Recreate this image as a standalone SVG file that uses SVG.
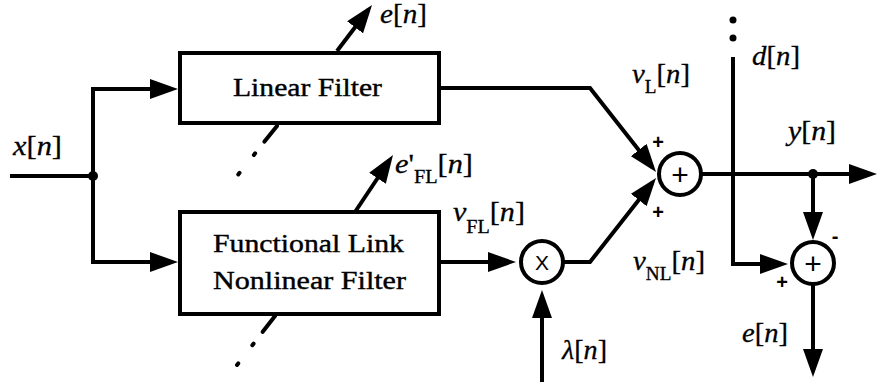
<svg xmlns="http://www.w3.org/2000/svg" width="877" height="382" viewBox="0 0 877 382">
<style>
.ln{fill:none;stroke:#000;stroke-width:4;stroke-linejoin:miter}
.box{fill:#fff;stroke:#000;stroke-width:4}
.ci{fill:#fff;stroke:#000;stroke-width:4}
.dash{fill:none;stroke:#000;stroke-width:4;stroke-linecap:round;stroke-dasharray:20 15 2 23 2 100}
.bt{font-family:"Liberation Serif","Times New Roman",serif;font-size:26px;fill:#000;stroke:#000;stroke-width:0.4}
.lb{font-family:"Liberation Serif","Times New Roman",serif;font-size:27px;fill:#000;stroke:#000;stroke-width:0.3}
.sub{font-size:18px}
.it{font-style:italic}
.sg{font-family:"Liberation Sans",Arial,sans-serif;fill:#000;text-anchor:middle}
.sm{font-size:20px;font-weight:bold}
</style>
<defs>
<marker id="ah" markerUnits="userSpaceOnUse" markerWidth="28" markerHeight="20" refX="22" refY="10" orient="auto" viewBox="0 0 28 20">
<path d="M0,0 L28,10 L0,20 z" fill="#000"/>
</marker>
</defs>
<g id="connectors">
<path class="ln" d="M10,176 H93"/>
<path class="ln" d="M93,176 V89 H172" marker-end="url(#ah)"/>
<path class="ln" d="M93,176 V262 H172" marker-end="url(#ah)"/>
<circle cx="93" cy="176" r="5" fill="#000"/>
<path class="ln" d="M337,51 L368.4,9.8" marker-end="url(#ah)"/>
<path class="ln" d="M355,212 L389.7,160" marker-end="url(#ah)"/>
<path class="dash" d="M277,126 L237,176"/>
<path class="dash" d="M275,316 L237,365"/>
<path class="ln" d="M439,88 H590 L652.3,167.3" marker-end="url(#ah)"/>
<path class="ln" d="M439,262 H510" marker-end="url(#ah)"/>
<path class="ln" d="M542,382 V296" marker-end="url(#ah)"/>
<path class="ln" d="M564,262 H590 L652.3,182.7" marker-end="url(#ah)"/>
<path class="ln" d="M702,174 H871" marker-end="url(#ah)"/>
<circle cx="733" cy="20" r="3.5" fill="#000"/>
<circle cx="733" cy="38" r="3.5" fill="#000"/>
<path class="ln" d="M733,57 V264 H782" marker-end="url(#ah)"/>
<circle cx="813" cy="174" r="5" fill="#000"/>
<path class="ln" d="M813,174 V234" marker-end="url(#ah)"/>
<path class="ln" d="M813,285 V371" marker-end="url(#ah)"/>
</g>
<g id="linear-filter">
<rect class="box" x="180" y="53" width="259" height="70"/>
<text class="bt" x="233" y="96" textLength="149" lengthAdjust="spacingAndGlyphs">Linear Filter</text>
</g>
<g id="fl-filter">
<rect class="box" x="180" y="212" width="259" height="102"/>
<text class="bt" x="213" y="252" textLength="191" lengthAdjust="spacingAndGlyphs">Functional Link</text>
<text class="bt" x="213" y="289" textLength="193" lengthAdjust="spacingAndGlyphs">Nonlinear Filter</text>
</g>
<g id="multiplier">
<circle class="ci" cx="542" cy="262" r="21"/>
<text class="sg" x="542" y="269.5" font-size="21">X</text>
</g>
<g id="sum1">
<circle class="ci" cx="680" cy="174" r="21"/>
<text class="sg" x="680" y="184.5" font-size="30">+</text>
<text class="sg sm" x="658" y="149">+</text>
<text class="sg sm" x="658" y="219">+</text>
</g>
<g id="sum2">
<circle class="ci" cx="813" cy="263" r="21"/>
<text class="sg" x="813" y="273.5" font-size="30">+</text>
<text class="sg sm" x="782" y="289">+</text>
<text class="sg sm" x="835" y="243">-</text>
</g>
<g id="labels">
<text class="lb" x="13" y="155" textLength="49" lengthAdjust="spacingAndGlyphs"><tspan class="it">x</tspan>[<tspan class="it">n</tspan>]</text>
<text class="lb" x="380" y="23" textLength="47" lengthAdjust="spacingAndGlyphs"><tspan class="it">e</tspan>[<tspan class="it">n</tspan>]</text>
<text class="lb" x="395" y="173" textLength="78" lengthAdjust="spacingAndGlyphs"><tspan class="it">e</tspan>'<tspan class="sub" dy="10">FL</tspan><tspan dy="-10">[</tspan><tspan class="it">n</tspan>]</text>
<text class="lb" x="632" y="83" textLength="58" lengthAdjust="spacingAndGlyphs"><tspan class="it">v</tspan><tspan class="sub" dy="10">L</tspan><tspan dy="-10">[</tspan><tspan class="it">n</tspan>]</text>
<text class="lb" x="752" y="65" textLength="48" lengthAdjust="spacingAndGlyphs"><tspan class="it">d</tspan>[<tspan class="it">n</tspan>]</text>
<text class="lb" x="788" y="140" textLength="48" lengthAdjust="spacingAndGlyphs"><tspan class="it">y</tspan>[<tspan class="it">n</tspan>]</text>
<text class="lb" x="453" y="221" textLength="72" lengthAdjust="spacingAndGlyphs"><tspan class="it">v</tspan><tspan class="sub" dy="12">FL</tspan><tspan dy="-12">[</tspan><tspan class="it">n</tspan>]</text>
<text class="lb" x="633" y="270" textLength="72" lengthAdjust="spacingAndGlyphs"><tspan class="it">v</tspan><tspan class="sub" dy="10">NL</tspan><tspan dy="-10">[</tspan><tspan class="it">n</tspan>]</text>
<text class="lb" x="562" y="359" textLength="45" lengthAdjust="spacingAndGlyphs"><tspan class="it">λ</tspan>[<tspan class="it">n</tspan>]</text>
<text class="lb" x="742" y="342" textLength="46" lengthAdjust="spacingAndGlyphs"><tspan class="it">e</tspan>[<tspan class="it">n</tspan>]</text>
</g>
</svg>
